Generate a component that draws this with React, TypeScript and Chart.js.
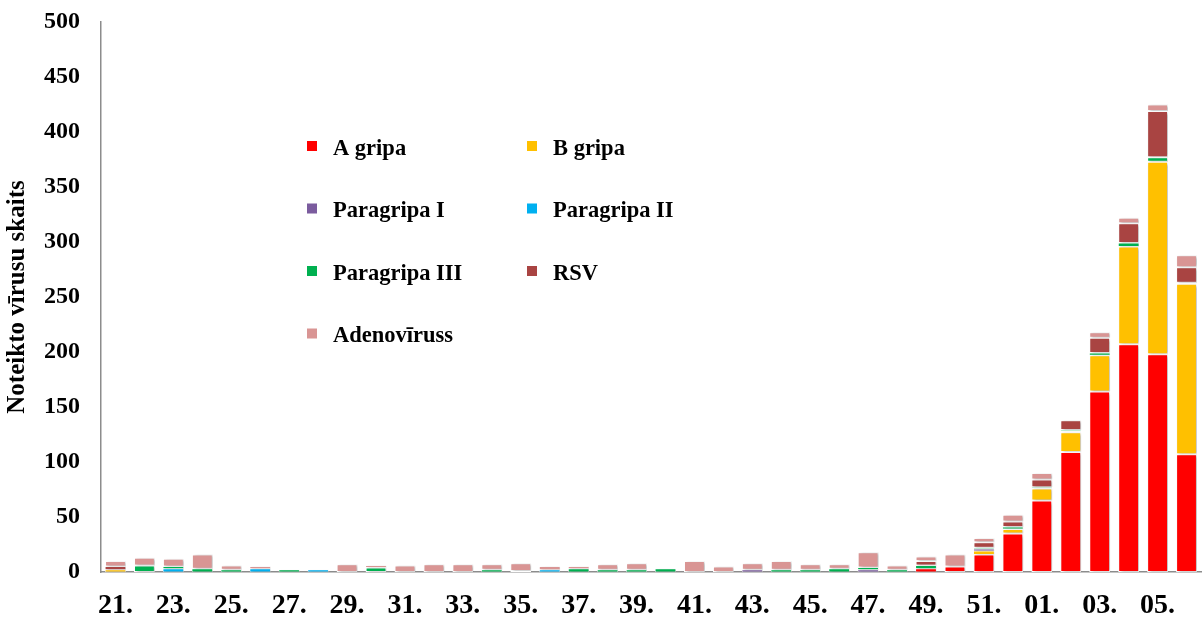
import React, { useEffect, useRef } from 'react';
import { Chart, registerables } from 'chart.js';

Chart.register(...registerables);

const weeks = [
  '21.', '22.', '23.', '24.', '25.', '26.', '27.', '28.', '29.', '30.',
  '31.', '32.', '33.', '34.', '35.', '36.', '37.', '38.', '39.', '40.',
  '41.', '42.', '43.', '44.', '45.', '46.', '47.', '48.', '49.', '50.',
  '51.', '52.', '01.', '02.', '03.', '04.', '05.', '06.',
];

const seriesNames = ['A gripa', 'B gripa', 'Paragripa I', 'Paragripa II', 'Paragripa III', 'RSV', 'Adenovīruss'];
const seriesColors = ['#FF0000', '#FFC000', '#7B5C9E', '#00B0F0', '#00B050', '#A94442', '#D99594'];

const aGripa = [0, 0, 0, 0, 0, 0, 0, 0, 0, 0, 0, 0, 0, 0, 0, 0, 0, 0, 0, 0, 0, 0, 0, 0, 0, 0, 0, 0, 3, 5, 16, 35, 65, 109, 164, 207, 198, 107];
const bGripa = [2, 0, 0, 0, 0, 0, 0, 0, 0, 0, 0, 0, 0, 0, 0, 0, 0, 0, 0, 0, 0, 0, 0, 0, 0, 0, 0, 0, 0, 0, 3, 4, 11, 18, 33, 89, 175, 155];
const paragripaI = [0, 0, 0, 0, 0, 0, 0, 0, 0, 0, 0, 0, 0, 0, 1, 0, 0, 0, 0, 0, 0, 0, 2, 0, 0, 0, 2, 0, 0, 0, 2, 0, 0, 0, 0, 0, 0, 0];
const paragripaII = [0, 0, 3, 0, 0, 3, 0, 2, 0, 0, 0, 0, 0, 0, 0, 2, 0, 0, 0, 0, 0, 0, 0, 0, 0, 0, 0, 0, 0, 0, 0, 0, 0, 1, 0, 0, 0, 0];
const paragripaIII = [0, 6, 2, 3, 2, 0, 2, 0, 0, 4, 0, 0, 0, 2, 0, 0, 3, 2, 2, 3, 0, 0, 0, 2, 2, 3, 2, 2, 3, 0, 1, 2, 1, 1, 2, 3, 4, 1];
const rsv = [3, 0, 0, 0, 0, 0, 0, 0, 0, 0, 0, 0, 0, 0, 0, 0, 0, 0, 0, 0, 0, 0, 0, 0, 0, 0, 0, 0, 4, 0, 5, 5, 7, 9, 14, 18, 42, 14];
const adenovirus = [5, 7, 7, 13, 4, 2, 0, 0, 7, 2, 6, 7, 7, 5, 7, 3, 2, 5, 6, 0, 10, 5, 6, 8, 5, 4, 14, 4, 4, 11, 4, 6, 6, 0, 5, 5, 6, 11];

const seriesValues = [aGripa, bGripa, paragripaI, paragripaII, paragripaIII, rsv, adenovirus];

const yMin = 0;
const yMax = 500;
const yStep = 50;
const yTitle = 'Noteikto vīrusu skaits';

const FONT = "'Liberation Serif', 'Times New Roman', serif";

const shadowPlugin = {
  id: 'barShadow',
  beforeDatasetsDraw(chart: any) {
    const ctx = chart.ctx;
    ctx.save();
    ctx.shadowColor = 'rgba(0,0,0,0.28)';
    ctx.shadowBlur = 3;
    ctx.shadowOffsetX = 2;
    ctx.shadowOffsetY = 1;
  },
  afterDatasetsDraw(chart: any) {
    chart.ctx.restore();
  },
};

const gridLegendPlugin = {
  id: 'gridLegend',
  afterDraw(chart: any) {
    const ctx = chart.ctx;
    const colX = [307, 527];
    const markerToText = 26;
    const rowTop = 141;
    const rowGap = 62.5;
    ctx.save();
    ctx.font = `bold 22.5px ${FONT}`;
    ctx.textBaseline = 'alphabetic';
    ctx.textAlign = 'left';
    chart.data.datasets.forEach((ds: any, i: number) => {
      const col = i % 2;
      const row = Math.floor(i / 2);
      const x = colX[col];
      const y = rowTop + row * rowGap;
      ctx.fillStyle = ds.backgroundColor;
      ctx.fillRect(x, y, 10, 10);
      ctx.fillStyle = '#000';
      ctx.fillText(ds.label, x + markerToText, y + 13.5);
    });
    ctx.restore();
  },
};

export default function App() {
  const canvasRef = useRef<HTMLCanvasElement | null>(null);

  useEffect(() => {
    if (!canvasRef.current) return;
    const chart = new Chart(canvasRef.current, {
      type: 'bar',
      data: {
        labels: weeks,
        datasets: seriesNames.map((name, i) => ({
          label: name,
          data: seriesValues[i],
          backgroundColor: seriesColors[i],
          borderColor: '#FFFFFF',
          borderWidth: (c: any) => (c.raw !== undefined && c.raw <= 3 ? 0.5 : 1),
          borderSkipped: false,
          barPercentage: 0.72,
          categoryPercentage: 1,
        })),
      },
      options: {
        responsive: false,
        animation: false,
        maintainAspectRatio: false,
        layout: { padding: { top: 22, right: 2, left: 0, bottom: 0 } },
        plugins: {
          legend: { display: false },
          tooltip: { enabled: false },
        },
        scales: {
          x: {
            stacked: true,
            grid: { display: false, drawTicks: false },
            border: { display: true, color: '#8C8C8C', width: 1.5 },
            ticks: {
              autoSkip: false,
              maxRotation: 0,
              minRotation: 0,
              padding: 17,
              color: '#000',
              font: { family: FONT, size: 28, weight: 'bold' },
              callback: (_v: any, idx: number) => (idx % 2 === 0 ? weeks[idx] : ''),
            },
            afterFit: (scale: any) => {
              scale.height = 47;
              scale.paddingLeft = 0;
              scale.paddingRight = 0;
            },
          },
          y: {
            stacked: true,
            min: yMin,
            max: yMax,
            grid: { display: false, drawTicks: false },
            border: { display: true, color: '#8C8C8C', width: 1.5 },
            ticks: {
              stepSize: yStep,
              padding: 21,
              color: '#000',
              font: { family: FONT, size: 24, weight: 'bold' },
            },
            title: {
              display: true,
              text: yTitle,
              color: '#000',
              padding: { top: 3, bottom: 0 },
              font: { family: FONT, size: 25, weight: 'bold' },
            },
            afterFit: (scale: any) => {
              scale.width = 101;
              scale.paddingTop = 0;
              scale.paddingBottom = 0;
            },
          },
        },
      },
      plugins: [shadowPlugin, gridLegendPlugin],
    });
    return () => chart.destroy();
  }, []);

  return (
    <div style={{ position: 'fixed', left: 0, top: 0, width: 1203, height: 619, background: '#fff' }}>
      <canvas ref={canvasRef} width={1203} height={619} style={{ width: 1203, height: 619, display: 'block' }} />
    </div>
  );
}
